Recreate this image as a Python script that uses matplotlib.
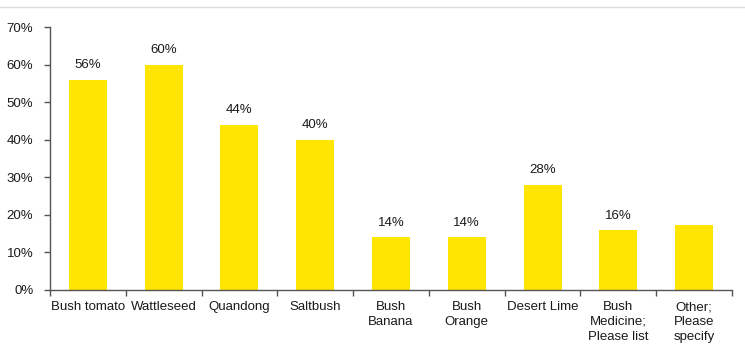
import matplotlib
matplotlib.use('Agg')
import matplotlib.pyplot as plt
from matplotlib.lines import Line2D
import numpy as np

categories = ["Bush tomato", "Wattleseed", "Quandong", "Saltbush", "Bush\nBanana",
              "Bush\nOrange", "Desert Lime", "Bush\nMedicine;\nPlease list",
              "Other;\nPlease\nspecify"]
values = [56, 60, 44, 40, 14, 14, 28, 16, 17.3]
value_labels = ["56%", "60%", "44%", "40%", "14%", "14%", "28%", "16%", ""]
y_ticks = [0, 10, 20, 30, 40, 50, 60, 70]

plt.rcParams['font.family'] = ['Liberation Sans', 'DejaVu Sans']

W, H = 745, 345
fig = plt.figure(figsize=(W / 100, H / 100), dpi=100)
ax = fig.add_axes([50 / W, (H - 290) / H, (732 - 50) / W, (290 - 27) / H])

x = np.arange(len(categories))
ax.bar(x, values, width=0.5, color="#FFE500")

for xi, v, lab in zip(x, values, value_labels):
    if lab:
        ax.annotate(lab, (xi, v), xytext=(0, 6), textcoords="offset points",
                    ha="center", va="bottom", fontsize=9.5, color="#1a1a1a")

ax.set_xlim(-0.5, len(categories) - 0.5)
ax.set_ylim(0, 70)
ax.set_yticks(y_ticks)
ax.set_yticklabels([f"{t}%" for t in y_ticks], fontsize=9.5, color="#1a1a1a")

# category labels centred, ticks between categories
ax.set_xticks(x)
ax.set_xticklabels(categories, fontsize=9.5, color="#1a1a1a", linespacing=1.32, va="top")
ax.tick_params(axis="x", length=0, pad=8)
ax.set_xticks(np.arange(len(categories) + 1) - 0.5, minor=True)
ax.tick_params(axis="x", which="minor", length=4, color="#555555", width=1)
ax.tick_params(axis="y", length=4, color="#555555", width=1, pad=8)

for s in ["top", "right"]:
    ax.spines[s].set_visible(False)
for s in ["left", "bottom"]:
    ax.spines[s].set_color("#555555")
    ax.spines[s].set_linewidth(1)

# thin line across the top of the picture
fig.add_artist(Line2D([0, 1], [1 - 7 / H, 1 - 7 / H], transform=fig.transFigure,
                      color="#dddddd", linewidth=1))

fig.savefig("out.png", dpi=100)
